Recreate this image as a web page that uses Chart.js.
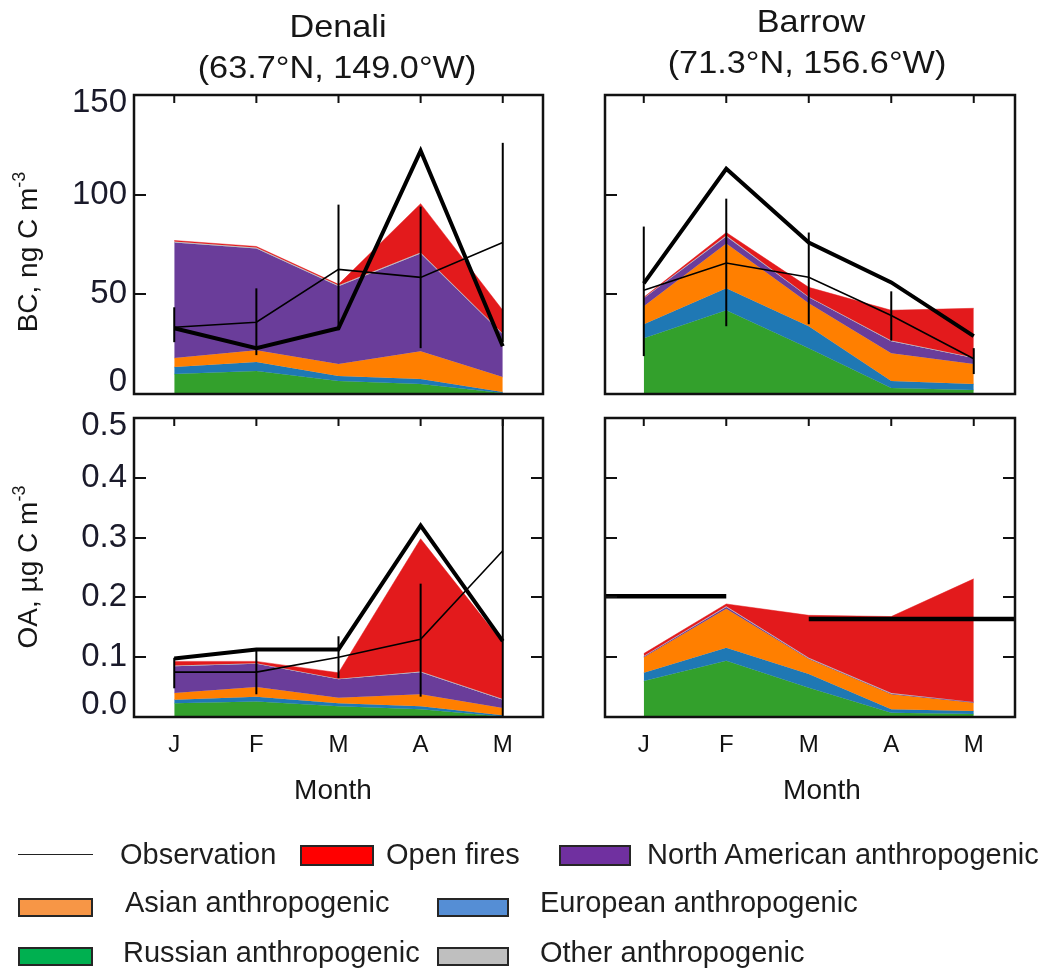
<!DOCTYPE html>
<html>
<head>
<meta charset="utf-8">
<script src="https://cdn.jsdelivr.net/npm/chart.js@4.4.1/dist/chart.umd.min.js"></script>
<style>
  html, body { margin:0; padding:0; background:#fff; }
  body { width:1050px; height:972px; position:relative; overflow:hidden;
         font-family:"Liberation Sans", Arial, Helvetica, sans-serif; color:#161616; }
  canvas { position:absolute; left:0; top:0; }
  .t { position:absolute; white-space:nowrap; line-height:1; }
  .ctr { transform: translateX(-50%); }
  .ttl { transform: translateX(-50%) scaleX(1.07); font-size:32px; }
  .ytl { position:absolute; white-space:nowrap; line-height:28px; font-size:28px;
         transform: translate(-50%,-50%) rotate(-90deg); }
  .ytl sup { font-size:18px; line-height:0; position:relative; top:-2px; vertical-align:super; }
  .box { position:absolute; box-sizing:border-box; border:2px solid #262626; }
  .lg { position:absolute; white-space:nowrap; line-height:1; font-size:29px; color:#1e1e1e; }
</style>
</head>
<body>
<canvas id="c0" width="1050" height="972"></canvas>
<canvas id="c1" width="1050" height="972"></canvas>
<canvas id="c2" width="1050" height="972"></canvas>
<canvas id="c3" width="1050" height="972"></canvas>

<div class="t ttl" style="left:338px;top:10px;">Denali</div>
<div class="t ttl" style="left:337px;top:51px;">(63.7°N, 149.0°W)</div>
<div class="t ttl" style="left:811px;top:5px;">Barrow</div>
<div class="t ttl" style="left:807px;top:46px;">(71.3°N, 156.6°W)</div>

<div class="ytl" style="left:28px;top:252px;">BC, ng C m<sup>-3</sup></div>
<div class="ytl" style="left:28px;top:567px;">OA, µg C m<sup>-3</sup></div>

<div class="t ctr" style="left:333px;top:776px;font-size:28px;">Month</div>
<div class="t ctr" style="left:822px;top:776px;font-size:28px;">Month</div>

<!-- legend -->
<div style="position:absolute;left:18px;top:854px;width:75px;height:0;border-top:1.5px solid #222;"></div>
<div class="lg" style="left:120px;top:840px;">Observation</div>
<div class="box" style="left:300px;top:845px;width:74px;height:21px;background:#ff0000;"></div>
<div class="lg" style="left:386px;top:840px;">Open fires</div>
<div class="box" style="left:559px;top:845px;width:72px;height:21px;background:#7030a0;"></div>
<div class="lg" style="left:647px;top:840px;">North American anthropogenic</div>

<div class="box" style="left:18px;top:898px;width:75px;height:19px;background:#f79646;"></div>
<div class="lg" style="left:125px;top:888px;">Asian anthropogenic</div>
<div class="box" style="left:437px;top:898px;width:72px;height:19px;background:#558ed5;"></div>
<div class="lg" style="left:540px;top:888px;">European anthropogenic</div>

<div class="box" style="left:18px;top:947px;width:75px;height:19px;background:#00b050;"></div>
<div class="lg" style="left:123px;top:938px;">Russian anthropogenic</div>
<div class="box" style="left:437px;top:947px;width:72px;height:19px;background:#bfbfbf;"></div>
<div class="lg" style="left:540px;top:938px;">Other anthropogenic</div>

<script>
// ---------------- DATA ----------------
const months = ['J', 'F', 'M', 'A', 'M'];
const bcTicks = [0, 50, 100, 150];
const bcTickLabels = ['0', '50', '100', '150'];
const oaTicks = [0, 0.1, 0.2, 0.3, 0.4, 0.5];
const oaTickLabels = ['0.0', '0.1', '0.2', '0.3', '0.4', '0.5'];

const sourceNames = ['Russian anthropogenic', 'European anthropogenic', 'Asian anthropogenic',
                     'North American anthropogenic', 'Other anthropogenic', 'Open fires'];
const sourceColors = ['#33a02c', '#1f78b4', '#ff7f00', '#6a3d9a', '#bdbdbd', '#e31a1c'];

// Denali BC (ng C m-3): source contributions
const denaliBC_russian  = [10, 11.5, 6.5, 5, 0.5];
const denaliBC_european = [3.5, 4.5, 2.5, 2.5, 0.5];
const denaliBC_asian    = [4.5, 6, 6, 14, 7.5];
const denaliBC_namerica = [58, 51, 39, 49, 21.5];
const denaliBC_other    = [0.5, 0.5, 0.5, 0.5, 0.3];
const denaliBC_fires    = [0.5, 0.5, 0.5, 24.5, 11.7];
const denaliBC_thick    = [33, 23, 33, 122, 24];
const denaliBC_obs      = [33.5, 36, 62.5, 58.5, 76];
const denaliBC_obsLow   = [26, 19.5, 32, 23, 26];
const denaliBC_obsHigh  = [43.5, 53, 95, 94, 126];

// Barrow BC (ng C m-3)
const barrowBC_russian  = [28, 42, 23, 3, 2];
const barrowBC_european = [7, 11, 11, 3.5, 3];
const barrowBC_asian    = [9, 22.5, 11.5, 14, 10];
const barrowBC_namerica = [4, 3.5, 3, 6, 3];
const barrowBC_other    = [0.3, 0.5, 0.3, 0.3, 0.3];
const barrowBC_fires    = [0.2, 1.5, 4.7, 15.2, 24.7];
const barrowBC_thick    = [55.5, 113, 76, 56, 29];
const barrowBC_obs      = [52, 65.7, 58.6, 39.4, 17.7];
const barrowBC_obsLow   = [19, 34, 35, 26.8, 10];
const barrowBC_obsHigh  = [84, 98, 81, 51.5, 23];

// Denali OA (ug C m-3)
const denaliOA_russian  = [0.023, 0.026, 0.018, 0.013, 0.001];
const denaliOA_european = [0.006, 0.008, 0.005, 0.005, 0.002];
const denaliOA_asian    = [0.011, 0.016, 0.009, 0.020, 0.012];
const denaliOA_namerica = [0.045, 0.039, 0.031, 0.037, 0.014];
const denaliOA_other    = [0.001, 0.001, 0.001, 0.001, 0.001];
const denaliOA_fires    = [0.007, 0.003, 0.010, 0.222, 0.094];
const denaliOA_thick    = [0.098, 0.113, 0.113, 0.32, 0.127];
const denaliOA_obs      = [0.075, 0.075, 0.1, 0.13, 0.278];
const denaliOA_obsLow   = [0.048, 0.038, 0.065, 0.034, 0.0];
const denaliOA_obsHigh  = [0.099, 0.113, 0.135, 0.223, 0.56];

// Barrow OA (ug C m-3)
const barrowOA_russian  = [0.060, 0.094, 0.049, 0.007, 0.005];
const barrowOA_european = [0.014, 0.022, 0.023, 0.006, 0.005];
const barrowOA_asian    = [0.026, 0.065, 0.025, 0.025, 0.014];
const barrowOA_namerica = [0.001, 0.003, 0.001, 0.001, 0.001];
const barrowOA_other    = [0.001, 0.001, 0.001, 0.001, 0.0];
const barrowOA_fires    = [0.004, 0.004, 0.071, 0.128, 0.206];
// Barrow OA observed period means: [start month index, end month index, value]
const barrowOA_obsPeriod1 = [-0.47, 1, 0.202];
const barrowOA_obsPeriod2 = [2, 4.5, 0.164];

// ---------------- BUILD ----------------
function areaDatasets(layers) {
  const ds = [];
  let cum = months.map(() => 0);
  layers.forEach((vals, k) => {
    cum = cum.map((c, i) => c + vals[i]);
    ds.push({
      label: sourceNames[k],
      data: cum.map((v, i) => ({ x: i, y: v })),
      backgroundColor: sourceColors[k],
      borderColor: sourceColors[k],
      borderWidth: 0.5,
      pointRadius: 0,
      fill: k === 0 ? 'origin' : k - 1,
      order: 20 - k,
      tension: 0
    });
  });
  return ds;
}
function lineDs(vals, width, order) {
  return { data: vals.map((v, i) => ({ x: i, y: v })), borderColor: '#000', borderWidth: width,
           pointRadius: 0, fill: false, order: order, tension: 0 };
}
function errDs(lo, hi) {
  return lo.map((l, i) => ({ data: [{ x: i, y: l }, { x: i, y: hi[i] }], borderColor: '#000',
           borderWidth: 2, pointRadius: 0, fill: false, order: 2 }));
}
function segDs(seg) {
  return { data: [{ x: seg[0], y: seg[2] }, { x: seg[1], y: seg[2] }], borderColor: '#000',
           borderWidth: 4.5, pointRadius: 0, fill: false, order: 1, borderCapStyle: 'butt' };
}

function makeFrame(cfg) {
  return {
    id: 'frame',
    afterDatasetsDraw(chart) {
      const ctx = chart.ctx, a = chart.chartArea, x = chart.scales.x, y = chart.scales.y;
      ctx.save();
      ctx.strokeStyle = '#111';
      ctx.lineWidth = 2;
      ctx.beginPath();
      months.forEach((m, i) => {
        const px = x.getPixelForValue(i);
        ctx.moveTo(px, a.top); ctx.lineTo(px, a.top + 8);
      });
      cfg.ticks.forEach(v => {
        if (v <= y.min || v >= y.max) return;
        const py = Math.round(y.getPixelForValue(v));
        ctx.moveTo(a.left, py); ctx.lineTo(a.left + 12, py);
        if (cfg.rightTicks) { ctx.moveTo(a.right, py); ctx.lineTo(a.right - 12, py); }
      });
      ctx.stroke();
      ctx.lineWidth = 2.5;
      ctx.strokeRect(a.left, a.top, a.right - a.left, a.bottom - a.top);
      if (cfg.labels) {
        ctx.fillStyle = '#1a1a2a';
        ctx.font = '33px "Liberation Sans", Arial, sans-serif';
        ctx.textAlign = 'right';
        ctx.textBaseline = 'middle';
        cfg.ticks.forEach((v, i) => {
          let py = y.getPixelForValue(v);
          py = Math.min(Math.max(py, a.top + 8), a.bottom - 12);
          ctx.fillText(cfg.labels[i], a.left - 7, py);
        });
      }
      if (cfg.months) {
        ctx.fillStyle = '#111';
        ctx.font = '24px "Liberation Sans", Arial, sans-serif';
        ctx.textAlign = 'center';
        ctx.textBaseline = 'alphabetic';
        months.forEach((m, i) => ctx.fillText(m, x.getPixelForValue(i), a.bottom + 35));
      }
      ctx.restore();
    }
  };
}

function makeChart(id, box, xr, yr, datasets, frameCfg) {
  return new Chart(document.getElementById(id), {
    type: 'line',
    data: { datasets },
    options: {
      responsive: false, animation: false, devicePixelRatio: 1,
      events: [],
      layout: { padding: { left: box.l, top: box.t, right: 1050 - box.r, bottom: 972 - box.b } },
      scales: {
        x: { type: 'linear', min: xr[0], max: xr[1], display: false },
        y: { type: 'linear', min: yr[0], max: yr[1], display: false }
      },
      plugins: { legend: { display: false }, tooltip: { enabled: false } }
    },
    plugins: [makeFrame(frameCfg)]
  });
}

const boxTL = { l: 134, t: 95, r: 543, b: 394 };
const boxTR = { l: 605, t: 95, r: 1015, b: 394 };
const boxBL = { l: 134, t: 418, r: 543, b: 717 };
const boxBR = { l: 605, t: 418, r: 1015, b: 717 };
const xLeft = [-0.49, 4.49], xRight = [-0.47, 4.5];

makeChart('c0', boxTL, xLeft, [0, 150], [
  ...areaDatasets([denaliBC_russian, denaliBC_european, denaliBC_asian, denaliBC_namerica, denaliBC_other, denaliBC_fires]),
  lineDs(denaliBC_obs, 1.6, 1), lineDs(denaliBC_thick, 4, 0), ...errDs(denaliBC_obsLow, denaliBC_obsHigh)
], { ticks: bcTicks, labels: bcTickLabels, rightTicks: false, months: false });

makeChart('c1', boxTR, xRight, [0, 150], [
  ...areaDatasets([barrowBC_russian, barrowBC_european, barrowBC_asian, barrowBC_namerica, barrowBC_other, barrowBC_fires]),
  lineDs(barrowBC_obs, 1.6, 1), lineDs(barrowBC_thick, 4, 0), ...errDs(barrowBC_obsLow, barrowBC_obsHigh)
], { ticks: bcTicks, labels: null, rightTicks: false, months: false });

makeChart('c2', boxBL, xLeft, [0, 0.5], [
  ...areaDatasets([denaliOA_russian, denaliOA_european, denaliOA_asian, denaliOA_namerica, denaliOA_other, denaliOA_fires]),
  lineDs(denaliOA_obs, 1.6, 1), lineDs(denaliOA_thick, 4, 0), ...errDs(denaliOA_obsLow, denaliOA_obsHigh)
], { ticks: oaTicks, labels: oaTickLabels, rightTicks: true, months: true });

makeChart('c3', boxBR, xRight, [0, 0.5], [
  ...areaDatasets([barrowOA_russian, barrowOA_european, barrowOA_asian, barrowOA_namerica, barrowOA_other, barrowOA_fires]),
  segDs(barrowOA_obsPeriod1), segDs(barrowOA_obsPeriod2)
], { ticks: oaTicks, labels: null, rightTicks: true, months: true });
</script>
</body>
</html>
